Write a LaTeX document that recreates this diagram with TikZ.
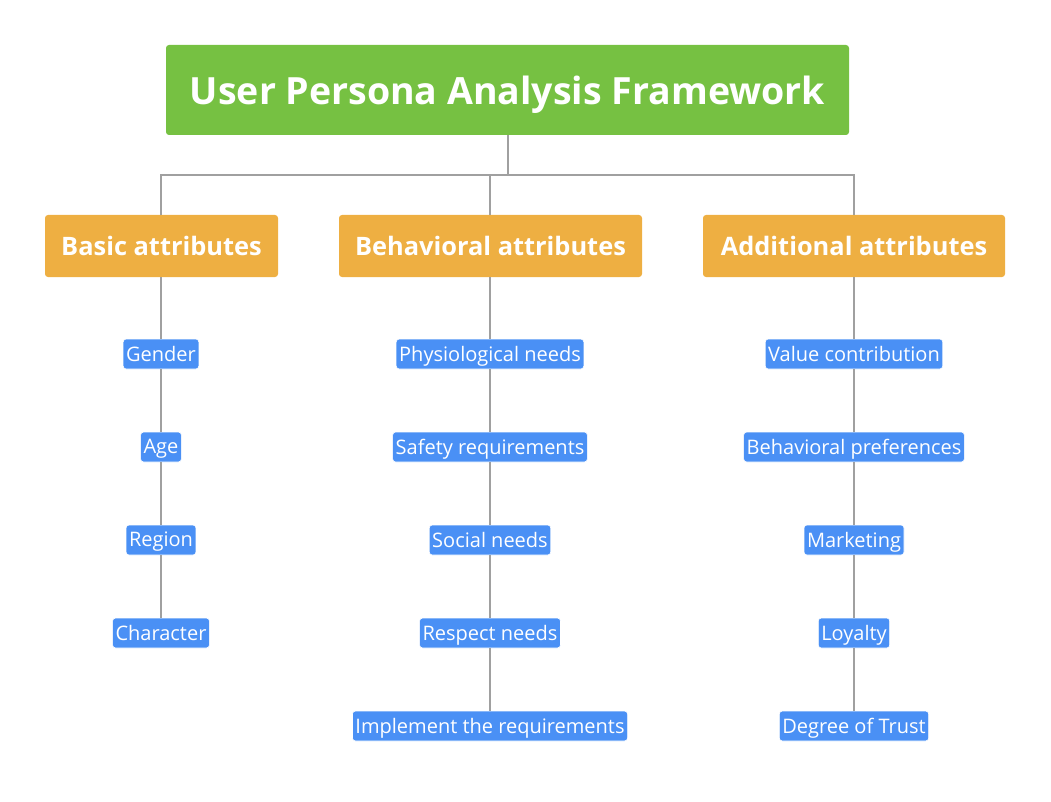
\documentclass[tikz,border=0pt]{standalone}
\usepackage{fontspec}
\setmainfont{Open Sans}
\usepackage{xcolor}
\usepackage{tikz}
\usetikzlibrary{positioning}
\definecolor{rootgreen}{RGB}{118, 193, 66}
\definecolor{branchorange}{RGB}{238, 175, 66}
\definecolor{leafblue}{RGB}{74, 144, 245}
\definecolor{linkgray}{RGB}{160, 160, 160}

\begin{document}
\begin{tikzpicture}[x=1pt, y=-1pt,
    root/.style={rectangle, fill=rootgreen, rounded corners=3pt, minimum width=683pt, minimum height=90pt, text depth=0pt, text=white, font=\fontsize{37.5}{44}\selectfont\bfseries},
    branch/.style={rectangle, fill=branchorange, rounded corners=3pt, minimum height=62pt, text depth=0pt, text=white, font=\fontsize{25.4}{30}\selectfont\bfseries},
    leaf/.style={rectangle, fill=leafblue, draw=white, line width=0.6pt, rounded corners=3pt, minimum height=30pt, inner xsep=3pt, text depth=1pt, text=white, font=\fontsize{20}{24}\selectfont},
    link/.style={draw=linkgray, line width=1.3pt}
  ]
    \useasboundingbox (0,0) rectangle (1051,802);
    \node[root] (title) at (507.5,90) {User Persona Analysis Framework};

    \node[branch, minimum width=233pt] (basic) at (161.5,246) {Basic attributes};
    \node[branch, minimum width=303pt] (behav) at (490.5,246) {Behavioral attributes};
    \node[branch, minimum width=302pt] (addit) at (854,246) {Additional attributes};

    % basic attributes
    \node[leaf] (gender) at (161,354) {Gender};
    \node[leaf] (age) at (161,447) {Age};
    \node[leaf] (region) at (161,540) {Region};
    \node[leaf] (charac) at (161,633) {Character};

    % behavioral attributes
    \node[leaf] (physio) at (490,354) {Physiological needs};
    \node[leaf] (safety) at (490,447) {Safety requirements};
    \node[leaf] (social) at (490,540) {Social needs};
    \node[leaf] (respect) at (490,633) {Respect needs};
    \node[leaf] (implem) at (490,726) {Implement the requirements};

    % additional attributes
    \node[leaf] (value) at (854,354) {Value contribution};
    \node[leaf] (prefer) at (854,447) {Behavioral preferences};
    \node[leaf] (market) at (854,540) {Marketing};
    \node[leaf] (loyal) at (854,633) {Loyalty};
    \node[leaf] (trust) at (854,726) {Degree of Trust};

    \coordinate (split) at (508,175);
    \draw[link] (title.south -| split) -- (split);
    \draw[link] (basic.north -| gender) |- (split) -| (addit.north -| value);
    \draw[link] (behav.north -| physio) -- (split -| physio);

    \draw[link] (basic.south -| gender) -- (gender) (gender) -- (age) (age) -- (region) (region) -- (charac);
    \draw[link] (behav.south -| physio) -- (physio) (physio) -- (safety) (safety) -- (social) (social) -- (respect) (respect) -- (implem);
    \draw[link] (addit.south -| value) -- (value) (value) -- (prefer) (prefer) -- (market) (market) -- (loyal) (loyal) -- (trust);
  \end{tikzpicture}
\end{document}
